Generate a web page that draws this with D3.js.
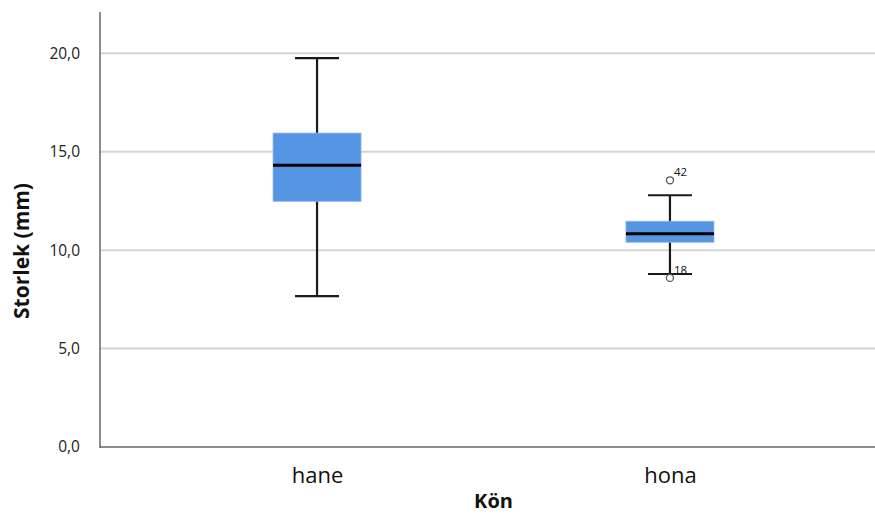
<!DOCTYPE html>
<html>
<head>
<meta charset="utf-8">
<script src="https://cdn.jsdelivr.net/npm/d3@7"></script>
<style>
  body { margin: 0; background: #fff; }
  svg { display: block; font-family: "Open Sans", sans-serif; }
</style>
</head>
<body>
<svg id="chart" width="875" height="516"></svg>
<script>
// categories and five-number summaries
var categories = ["hane", "hona"];
var whiskerLow  = [7.67, 8.79];
var q1          = [12.48, 10.40];
var median      = [14.32, 10.84];
var q3          = [15.95, 11.47];
var whiskerHigh = [19.76, 12.79];
var outliers = [
    { cat: "hona", value: 13.55, label: "42" },
    { cat: "hona", value: 8.59, label: "18" }
];
var yTicks = [0, 5, 10, 15, 20];

var svg = d3.select("#chart");
var plotLeft = 100, plotRight = 887, plotTop = 12, plotBottom = 447;

var x = d3.scalePoint().domain(categories).range([plotLeft, plotRight]).padding(0.615);
var y = d3.scaleLinear().domain([0, 22.1]).range([plotBottom, plotTop]);
var fmt = function(d) { return d3.format(".1f")(d).replace(".", ","); };

// grid lines
svg.append("g")
    .selectAll("line")
    .data(yTicks.filter(function(d) { return d > 0; }))
    .enter().append("line")
    .attr("x1", plotLeft).attr("x2", 875)
    .attr("y1", function(d) { return y(d); })
    .attr("y2", function(d) { return y(d); })
    .attr("stroke", "#d4d4d4")
    .attr("stroke-width", 2);

// y axis
var yAxis = svg.append("g")
    .attr("transform", "translate(" + plotLeft + ",0)")
    .call(d3.axisLeft(y).tickValues(yTicks).tickFormat(fmt).tickSize(0).tickPadding(20));
yAxis.select(".domain").remove();
yAxis.selectAll("text").attr("font-size", 15.5).attr("fill", "#222").attr("font-family", "Open Sans");

// x axis
var xAxis = svg.append("g")
    .attr("transform", "translate(0," + plotBottom + ")")
    .call(d3.axisBottom(x).tickSize(0).tickPadding(20));
xAxis.select(".domain").remove();
xAxis.selectAll("text").attr("font-size", 22).attr("fill", "#111").attr("font-family", "Open Sans");

svg.append("line")
    .attr("x1", plotLeft).attr("x2", plotLeft).attr("y1", plotTop).attr("y2", plotBottom + 1)
    .attr("stroke", "#666").attr("stroke-width", 1.5);
svg.append("line")
    .attr("x1", plotLeft).attr("x2", 875).attr("y1", plotBottom).attr("y2", plotBottom)
    .attr("stroke", "#666").attr("stroke-width", 1.5);

// boxes
var boxW = 88, capW = 44;
var g = svg.append("g").selectAll("g")
    .data(categories)
    .enter().append("g");

g.append("line")
    .attr("x1", function(d) { return x(d); })
    .attr("x2", function(d) { return x(d); })
    .attr("y1", function(d, i) { return y(whiskerHigh[i]); })
    .attr("y2", function(d, i) { return y(whiskerLow[i]); })
    .attr("stroke", "#1a1a1a").attr("stroke-width", 2.2);

[whiskerHigh, whiskerLow].forEach(function(arr) {
    g.append("line")
        .attr("x1", function(d) { return x(d) - capW / 2; })
        .attr("x2", function(d) { return x(d) + capW / 2; })
        .attr("y1", function(d, i) { return y(arr[i]); })
        .attr("y2", function(d, i) { return y(arr[i]); })
        .attr("stroke", "#1a1a1a").attr("stroke-width", 2.2);
});

g.append("rect")
    .attr("x", function(d) { return x(d) - boxW / 2; })
    .attr("width", boxW)
    .attr("y", function(d, i) { return y(q3[i]); })
    .attr("height", function(d, i) { return y(q1[i]) - y(q3[i]); })
    .attr("fill", "#5595e3")
    .attr("stroke", "#8fb9ef").attr("stroke-width", 0.8);

g.append("line")
    .attr("x1", function(d) { return x(d) - boxW / 2; })
    .attr("x2", function(d) { return x(d) + boxW / 2; })
    .attr("y1", function(d, i) { return y(median[i]); })
    .attr("y2", function(d, i) { return y(median[i]); })
    .attr("stroke", "#000").attr("stroke-width", 3);

// outliers
var o = svg.append("g").selectAll("g")
    .data(outliers)
    .enter().append("g");
o.append("circle")
    .attr("cx", function(d) { return x(d.cat); })
    .attr("cy", function(d) { return y(d.value); })
    .attr("r", 3.5)
    .attr("fill", "#fff").attr("stroke", "#555").attr("stroke-width", 1.3);
o.append("text")
    .attr("x", function(d) { return x(d.cat) + 4; })
    .attr("y", function(d) { return y(d.value) - 4; })
    .attr("font-size", 11.5).attr("fill", "#111")
    .text(function(d) { return d.label; });

// axis titles
svg.append("text")
    .attr("x", (plotLeft + plotRight) / 2).attr("y", 508)
    .attr("text-anchor", "middle")
    .attr("font-size", 20).attr("font-weight", "bold").attr("fill", "#111")
    .text("Kön");
svg.append("text")
    .attr("transform", "translate(29,251) rotate(-90)")
    .attr("text-anchor", "middle")
    .attr("font-size", 21).attr("font-weight", "bold").attr("fill", "#111")
    .text("Storlek (mm)");
</script>
</body>
</html>
